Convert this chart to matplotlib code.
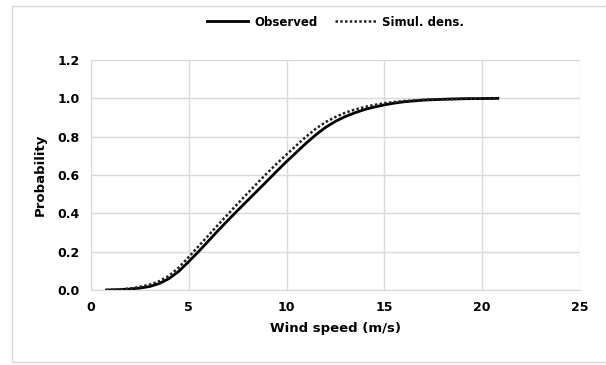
import numpy as np
import matplotlib.pyplot as plt
from matplotlib.patches import Rectangle

# Wind speed (m/s) and cumulative probability
wind_speed = [0.8, 1.5, 2, 2.5, 3, 3.5, 4, 4.5, 5, 5.5, 6, 6.5, 7, 7.5, 8, 8.5,
              9, 9.5, 10, 10.5, 11, 11.5, 12, 12.5, 13, 13.5, 14, 14.5, 15,
              15.5, 16, 17, 18, 19, 20, 20.8]
observed = [0.0, 0.002, 0.005, 0.01, 0.018, 0.034, 0.06, 0.098, 0.148, 0.2,
            0.255, 0.31, 0.363, 0.415, 0.466, 0.517, 0.568, 0.62, 0.67, 0.718,
            0.766, 0.81, 0.849, 0.88, 0.905, 0.925, 0.942, 0.955, 0.966, 0.975,
            0.982, 0.991, 0.995, 0.998, 0.999, 1.0]
simulated = [0.0, 0.003, 0.008, 0.016, 0.028, 0.046, 0.074, 0.118, 0.172,
             0.228, 0.284, 0.34, 0.395, 0.45, 0.504, 0.557, 0.609, 0.659,
             0.707, 0.754, 0.8, 0.842, 0.876, 0.903, 0.925, 0.942, 0.955,
             0.966, 0.975, 0.981, 0.986, 0.992, 0.996, 0.998, 0.999, 1.0]

fig = plt.figure(figsize=(6.06, 3.65), dpi=100)
ax = fig.add_axes([0.150, 0.2055, 0.807, 0.630])

# outer chart border
fig.add_artist(Rectangle((12 / 606, 3 / 365), 600 / 606, 356 / 365,
                         transform=fig.transFigure, fill=False,
                         edgecolor="#d9d9d9", linewidth=1.0))

ax.plot(wind_speed, observed, color="black", lw=2.0, label="Observed")
ax.plot(wind_speed, simulated, color="#222222", lw=1.8, ls=(0, (1, 0.9)),
        label="Simul. dens.")

ax.set_xlim(0, 25)
ax.set_ylim(0, 1.2)
ax.set_xticks(range(0, 26, 5))
ax.set_yticks(np.arange(0, 1.21, 0.2))
ax.set_yticklabels([f"{v:.1f}" for v in np.arange(0, 1.21, 0.2)])
ax.grid(True, color="#d9d9d9", lw=1.0)
ax.set_axisbelow(True)
ax.tick_params(length=0, labelsize=9, pad=8)
for lab in ax.get_xticklabels() + ax.get_yticklabels():
    lab.set_fontweight("bold")
for s in ["top", "right"]:
    ax.spines[s].set_visible(False)
for s in ["left", "bottom"]:
    ax.spines[s].set_color("#d9d9d9")

ax.set_xlabel("Wind speed (m/s)", fontsize=9.5, fontweight="bold", labelpad=6)
ax.set_ylabel("Probability", fontsize=9.5, fontweight="bold", labelpad=8)

ax.legend(loc="center", bbox_to_anchor=(0.5, 1.165), ncol=2, frameon=False,
          prop={"size": 8.5, "weight": "bold"}, handlelength=3.5,
          columnspacing=1.5, handletextpad=0.5)

plt.savefig("out.png", dpi=100)
